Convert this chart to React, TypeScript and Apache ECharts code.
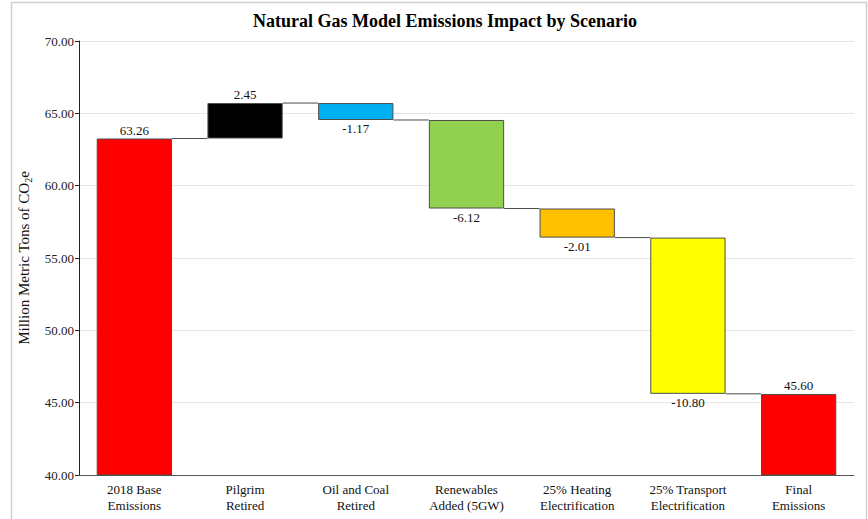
import React, { useEffect, useRef } from "react";
import * as echarts from "echarts";

const categories = [
  "2018 Base\nEmissions",
  "Pilgrim\nRetired",
  "Oil and Coal\nRetired",
  "Renewables\nAdded (5GW)",
  "25% Heating\nElectrification",
  "25% Transport\nElectrification",
  "Final\nEmissions",
];
// signed changes; first and last are totals
const changes = [63.26, 2.45, -1.17, -6.12, -2.01, -10.8, 45.6];
const isTotal = [true, false, false, false, false, false, true];
const barColors = ["#FF0000", "#000000", "#00B0F0", "#92D050", "#FFC000", "#FFFF00", "#FF0000"];
const yTicks = { min: 40, max: 70, interval: 5 };

export default function App() {
  const ref = useRef<HTMLDivElement>(null);
  useEffect(() => {
    if (!ref.current) return;
    const chart = echarts.init(ref.current, null, { renderer: "svg" });

    const bases: number[] = [];
    const heights: number[] = [];
    const levels: number[] = [];
    let running = 0;
    changes.forEach((c, i) => {
      if (isTotal[i]) {
        bases.push(0);
        heights.push(c);
        running = c;
      } else {
        const next = running + c;
        bases.push(Math.min(running, next));
        heights.push(Math.abs(c));
        running = next;
      }
      levels.push(running);
    });

    const font = "Liberation Serif";
    const barFrac = 0.68;

    chart.setOption({
      animation: false,
      textStyle: { fontFamily: font },
      title: {
        text: "Natural Gas Model Emissions Impact by Scenario",
        left: 440,
        textAlign: "center",
        top: 7,
        textStyle: { fontFamily: font, fontSize: 18, fontWeight: "bold", color: "#000" },
      },
      graphic: [
        {
          type: "rect",
          shape: { x: 11.5, y: 2.5, width: 855, height: 530 },
          style: { fill: "none", stroke: "#cfcfcf", lineWidth: 1.5 },
          silent: true,
        },
      ],
      grid: { left: 79, right: 14, top: 41, bottom: 44 },
      xAxis: {
        type: "category",
        data: categories,
        axisLine: { show: true, lineStyle: { color: "#595959", width: 1 } },
        axisTick: { show: false },
        axisLabel: { fontFamily: font, fontSize: 13, color: "#111", lineHeight: 16, margin: 6, interval: 0 },
      },
      yAxis: {
        type: "value",
        min: yTicks.min,
        max: yTicks.max,
        interval: yTicks.interval,
        name: "{a|Million Metric Tons of CO}{b|2}{a|e}",
        nameLocation: "middle",
        nameGap: 40,
        nameRotate: 90,
        nameTextStyle: {
          fontFamily: font,
          rich: {
            a: { fontFamily: font, fontSize: 15, color: "#111", lineHeight: 20, verticalAlign: "middle" },
            b: { fontFamily: font, fontSize: 10, color: "#111", lineHeight: 20, verticalAlign: "bottom", padding: [6, 0, 0, 0] },
          },
        },
        axisLine: { show: true, lineStyle: { color: "#222", width: 1 } },
        axisTick: { show: true, length: 4, lineStyle: { color: "#222" } },
        axisLabel: {
          fontFamily: font,
          fontSize: 13,
          color: "#222",
          margin: 5,
          formatter: (v: number) => v.toFixed(2),
        },
        splitLine: { show: true, lineStyle: { color: "#e6e6e6", width: 1 } },
      },
      series: [
        {
          type: "bar",
          stack: "w",
          barWidth: barFrac * 100 + "%",
          data: bases,
          itemStyle: { color: "transparent", borderColor: "transparent" },
          silent: true,
        },
        {
          type: "bar",
          stack: "w",
          barWidth: barFrac * 100 + "%",
          data: heights.map((h, i) => ({
            value: h,
            itemStyle: { color: barColors[i], borderColor: "#4d4d4d", borderWidth: 1 },
            label: {
              show: true,
              position: changes[i] >= 0 ? "top" : "bottom",
              distance: 2,
              formatter: () => changes[i].toFixed(2),
              fontFamily: font,
              fontSize: 13,
              color: "#111",
            },
          })),
        },
        {
          type: "custom",
          data: levels.slice(0, levels.length - 1).map((lv, i) => [i, lv]),
          renderItem: (params: any, api: any) => {
            const i = api.value(0);
            const lv = api.value(1);
            const p = api.coord([i, lv]);
            const band = api.size([1, 0])[0];
            const half = (band * barFrac) / 2;
            return {
              type: "line",
              shape: { x1: p[0] + half, y1: p[1], x2: p[0] + band - half, y2: p[1] },
              style: { stroke: "#4d4d4d", lineWidth: 1 },
            };
          },
          z: 3,
        },
      ],
    });
    return () => chart.dispose();
  }, []);
  return <div ref={ref} style={{ position: "absolute", left: 0, top: 0, width: 868, height: 519 }} />;
}
